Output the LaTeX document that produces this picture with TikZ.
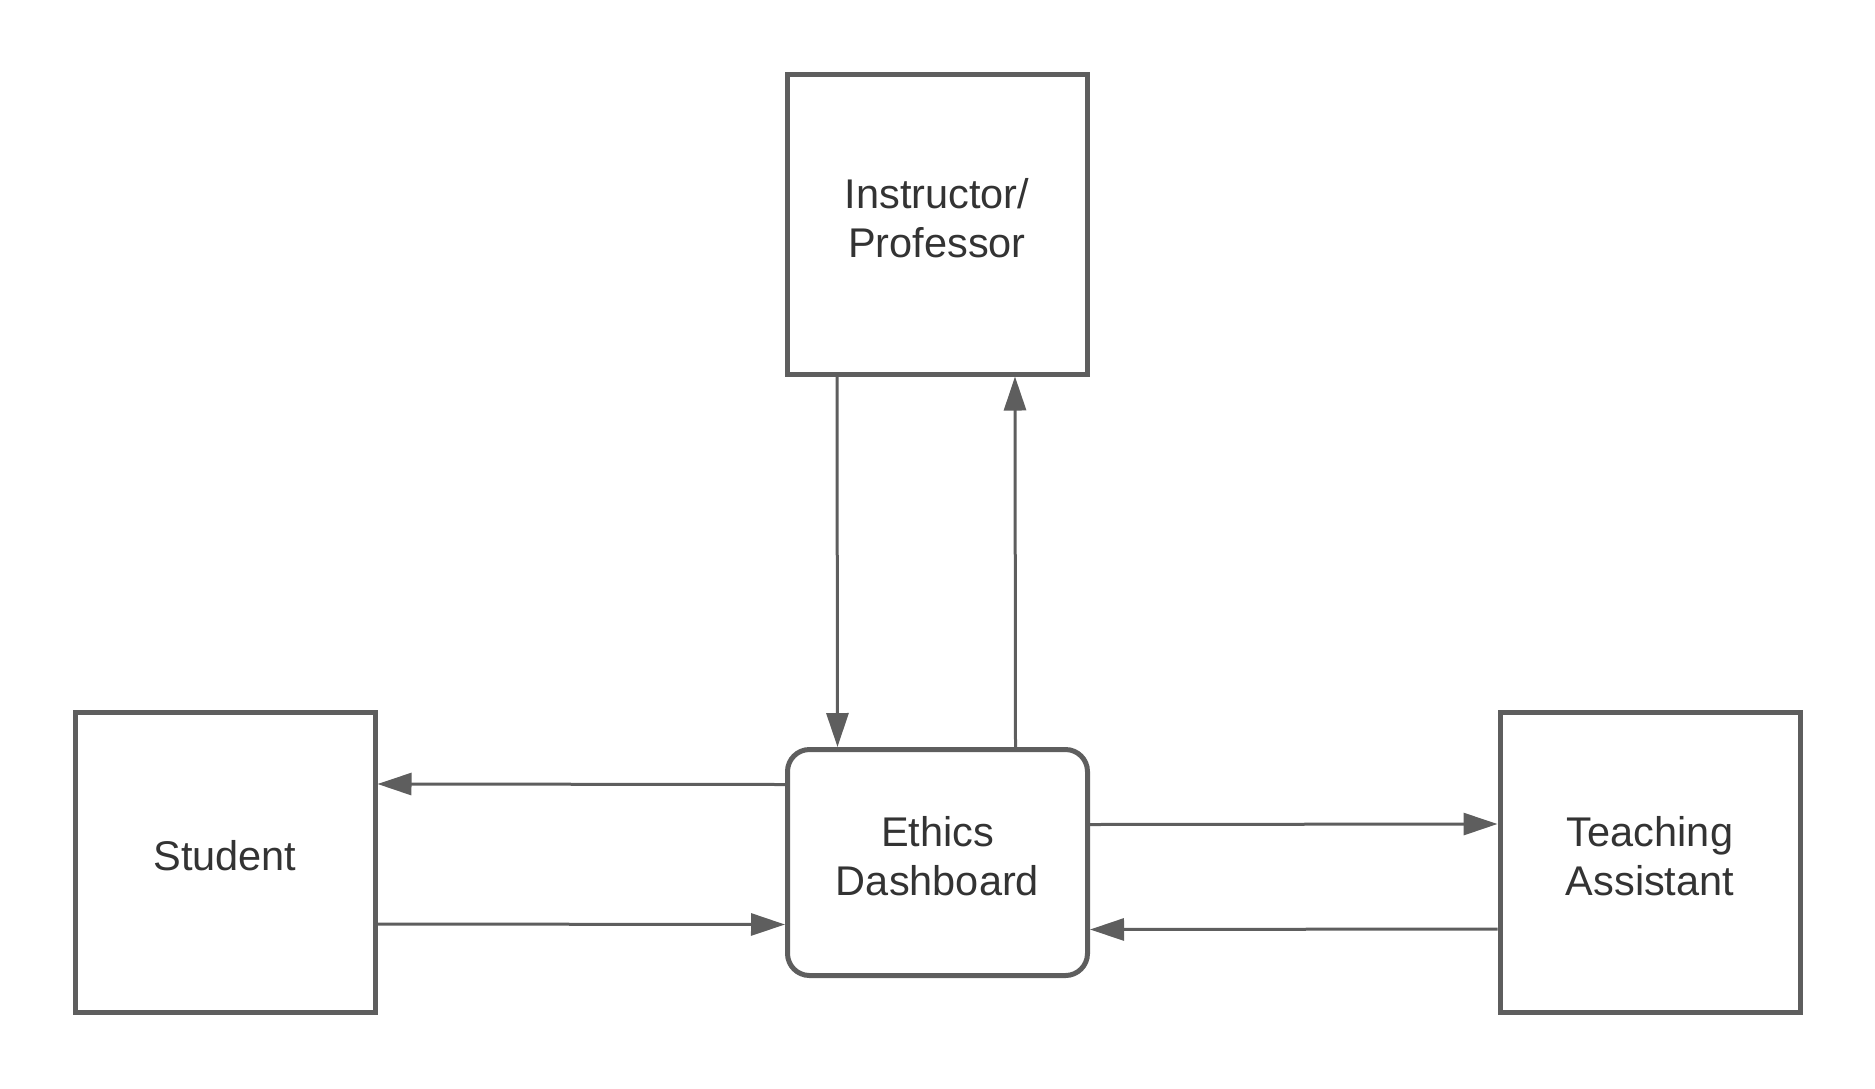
\documentclass[tikz,border=0pt]{standalone}
\usepackage{fontspec}
\setmainfont{Liberation Sans}
\usetikzlibrary{arrows.meta}
\definecolor{edge}{HTML}{5E5E5E}
\definecolor{txt}{HTML}{333333}
\tikzset{
  tx/.style={align=center, text=txt, font=\fontsize{41.5}{49}\selectfont, inner sep=0pt, yshift=6pt},
  actor/.style={draw=edge, line width=5pt, minimum width=300pt, minimum height=300pt, inner sep=0pt},
  hub/.style={actor, minimum height=226pt, rounded corners=22pt},
  arr/.style={draw=edge, line width=3pt, -{Triangle[length=34pt,width=22pt]}}
}
\begin{document}
\begin{tikzpicture}[x=1pt,y=-1pt]
\useasboundingbox (0,0) rectangle (1875,1088);
\node[actor, label={[tx]center:Instructor/\\Professor}] (instr) at (937,224) {};
\node[actor, label={[tx]center:Student}] (stud) at (225,862) {};
\node[actor, label={[tx]center:Teaching\\Assistant}] (ta) at (1650,862) {};
\node[hub, label={[tx]center:Ethics\\Dashboard}] (dash) at (937.5,862.5) {};
\draw[arr] ([xshift=-100pt]instr.south) -- ([xshift=-100pt]dash.north);
\draw[arr] ([xshift=78pt]dash.north) -- ([xshift=78pt]instr.south);
\draw[arr] ([yshift=78pt]dash.west) -- ([yshift=78pt]stud.east);
\draw[arr] ([yshift=-62pt]stud.east) -- ([yshift=-62pt]dash.west);
\draw[arr] ([yshift=38pt]dash.east) -- ([yshift=38pt]ta.west);
\draw[arr] ([yshift=-67pt]ta.west) -- ([yshift=-67pt]dash.east);
\end{tikzpicture}
\end{document}
